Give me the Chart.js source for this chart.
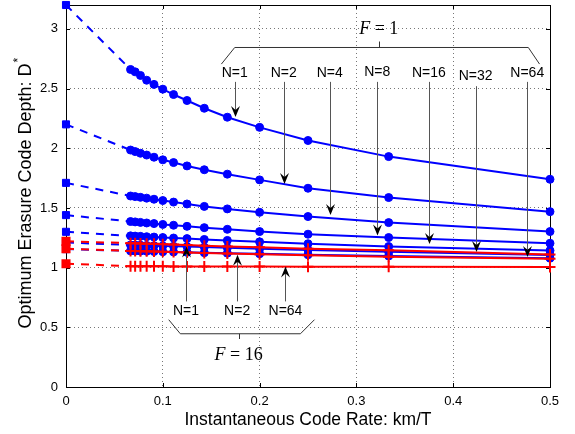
<!DOCTYPE html>
<html>
<head>
<meta charset="utf-8">
<script src="https://cdn.jsdelivr.net/npm/chart.js@4.4.1/dist/chart.umd.min.js"></script>
<style>
  html, body { margin: 0; padding: 0; background: #fff; }
  #wrap { width: 575px; height: 434px; }
</style>
</head>
<body>
<div id="wrap"><canvas id="depth-chart" width="575" height="434"></canvas></div>
<script>
// code rates k/T (first point is the asymptote at 0)
const rates = [0, 1/15, 1/14, 1/13, 1/12, 1/11, 1/10, 1/9, 1/8, 1/7, 1/6, 1/5, 1/4, 1/3, 1/2];
const xTicks = [0, 0.1, 0.2, 0.3, 0.4, 0.5];
const yTicks = [0, 0.5, 1, 1.5, 2, 2.5, 3];

// F = 1 (blue)
const depthF1N1  = [3.20, 2.66, 2.64, 2.61, 2.57, 2.535, 2.495, 2.45, 2.40, 2.335, 2.26, 2.175, 2.065, 1.93, 1.74];
const depthF1N2  = [2.20, 1.985, 1.972, 1.958, 1.943, 1.925, 1.903, 1.88, 1.852, 1.82, 1.783, 1.735, 1.665, 1.587, 1.469];
const depthF1N4  = [1.71, 1.60, 1.595, 1.589, 1.582, 1.573, 1.562, 1.549, 1.533, 1.513, 1.492, 1.463, 1.428, 1.377, 1.302];
const depthF1N8  = [1.44, 1.386, 1.383, 1.379, 1.374, 1.369, 1.362, 1.355, 1.346, 1.335, 1.321, 1.302, 1.28, 1.252, 1.204];
const depthF1N16 = [1.30, 1.266, 1.264, 1.262, 1.259, 1.256, 1.252, 1.248, 1.243, 1.236, 1.228, 1.216, 1.20, 1.177, 1.143];
const depthF1N32 = [1.21, 1.19, 1.189, 1.188, 1.186, 1.184, 1.182, 1.179, 1.176, 1.172, 1.166, 1.158, 1.148, 1.132, 1.106];
const depthF1N64 = [1.155, 1.14, 1.139, 1.138, 1.137, 1.135, 1.133, 1.131, 1.128, 1.125, 1.121, 1.116, 1.108, 1.097, 1.079];

// F = 16 (red)
const depthF16N1  = [1.22, 1.205, 1.204, 1.203, 1.201, 1.199, 1.196, 1.193, 1.189, 1.184, 1.178, 1.17, 1.158, 1.145, 1.11];
const depthF16N2  = [1.158, 1.14, 1.139, 1.138, 1.137, 1.135, 1.133, 1.13, 1.127, 1.123, 1.119, 1.113, 1.104, 1.092, 1.075];
const depthF16N64 = [1.033, 1.012, 1.012, 1.012, 1.011, 1.011, 1.011, 1.01, 1.01, 1.01, 1.009, 1.009, 1.008, 1.007, 1.005];

const labelsF1 = ["N=1", "N=2", "N=4", "N=8", "N=16", "N=32", "N=64"];
const labelsF16 = ["N=1", "N=2", "N=64"];

const BLUE = "#0000ff";
const RED = "#ff0000";
const SANS = "'Liberation Sans', Arial, Helvetica, sans-serif";
const SERIF = "'Liberation Serif', 'DejaVu Serif', serif";

// annotation placement, in data units
const arrowsF1 = [
  { x: 0.1743, labelY: 2.628, fromY: 2.556, tipY: 2.262 },
  { x: 0.2249, labelY: 2.628, fromY: 2.556, tipY: 1.70 },
  { x: 0.2725, labelY: 2.628, fromY: 2.556, tipY: 1.44 },
  { x: 0.3215, labelY: 2.641, fromY: 2.556, tipY: 1.27 },
  { x: 0.3748, labelY: 2.628, fromY: 2.556, tipY: 1.198 },
  { x: 0.4231, labelY: 2.607, fromY: 2.52, tipY: 1.131 },
  { x: 0.4765, labelY: 2.628, fromY: 2.556, tipY: 1.089 },
];
const arrowsF16 = [
  { x: 0.124, labelY: 0.633, fromY: 0.717, tipY: 1.178 },
  { x: 0.1768, labelY: 0.633, fromY: 0.717, tipY: 1.108 },
  { x: 0.2267, labelY: 0.633, fromY: 0.717, tipY: 1.01 },
];
const braceF1 = { x0: 0.1743, x1: 0.4776, y: 2.844, endX0: 0.1605, endX1: 0.4892, endY: 2.705, mid: 0.3231, midY: 2.894, textY: 3.0, text: "1" };
const braceF16 = { x0: 0.1181, x1: 0.2422, y: 0.446, endX0: 0.1061, endX1: 0.2567, endY: 0.564, mid: 0.1784, midY: 0.402, textY: 0.262, text: "16" };

function makeSeries(values, color, marker) {
  return {
    data: values.map((v, i) => ({ x: rates[i], y: v })),
    borderColor: color,
    backgroundColor: color,
    borderWidth: 2,
    pointStyle: (ctx) => (ctx.dataIndex === 0 ? "rect" : marker),
    pointRadius: (ctx) => (ctx.dataIndex === 0 ? 5 : marker === "cross" ? 5.5 : 4),
    pointBorderWidth: marker === "cross" ? 2 : 1,
    pointHoverRadius: 4,
    segment: {
      borderDash: (ctx) => (ctx.p0DataIndex === 0 ? [8, 7] : undefined),
    },
    tension: 0,
    clip: false,
  };
}

// red datasets first so they end up on top
const datasets = [
  makeSeries(depthF16N1, RED, "cross"),
  makeSeries(depthF16N2, RED, "cross"),
  makeSeries(depthF16N64, RED, "cross"),
  makeSeries(depthF1N1, BLUE, "circle"),
  makeSeries(depthF1N2, BLUE, "circle"),
  makeSeries(depthF1N4, BLUE, "circle"),
  makeSeries(depthF1N8, BLUE, "circle"),
  makeSeries(depthF1N16, BLUE, "circle"),
  makeSeries(depthF1N32, BLUE, "circle"),
  makeSeries(depthF1N64, BLUE, "circle"),
];

// box + inward ticks (matlab look)
const frame = {
  id: "frame",
  beforeDatasetsDraw(chart) {
    const { ctx, chartArea: a, scales } = chart;
    ctx.save();
    ctx.strokeStyle = "#000";
    ctx.lineWidth = 1;
    ctx.strokeRect(Math.round(a.left) + 0.5, Math.round(a.top) + 0.5,
      Math.round(a.right - a.left), Math.round(a.bottom - a.top));
    ctx.beginPath();
    xTicks.forEach((v) => {
      const px = Math.round(scales.x.getPixelForValue(v)) + 0.5;
      ctx.moveTo(px, a.bottom); ctx.lineTo(px, a.bottom - 4);
      ctx.moveTo(px, a.top); ctx.lineTo(px, a.top + 4);
    });
    yTicks.forEach((v) => {
      const py = Math.round(scales.y.getPixelForValue(v)) + 0.5;
      ctx.moveTo(a.left, py); ctx.lineTo(a.left + 4, py);
      ctx.moveTo(a.right, py); ctx.lineTo(a.right - 4, py);
    });
    ctx.stroke();
    ctx.restore();
  },
};

function arrowHead(ctx, x, y, dir) {
  // dir = 1 pointing down, -1 pointing up
  ctx.beginPath();
  ctx.moveTo(x, y);
  ctx.lineTo(x - 4.5, y - dir * 11);
  ctx.lineTo(x, y - dir * 7);
  ctx.lineTo(x + 4.5, y - dir * 11);
  ctx.closePath();
  ctx.fill();
}

function drawBrace(ctx, sx, sy, b) {
  ctx.strokeStyle = "#333";
  ctx.lineWidth = 1;
  ctx.beginPath();
  ctx.moveTo(sx(b.endX0), sy(b.endY));
  ctx.lineTo(sx(b.x0), sy(b.y));
  ctx.lineTo(sx(b.x1), sy(b.y));
  ctx.lineTo(sx(b.endX1), sy(b.endY));
  ctx.moveTo(Math.round(sx(b.mid)) + 0.5, sy(b.y));
  ctx.lineTo(Math.round(sx(b.mid)) + 0.5, sy(b.midY));
  ctx.stroke();

  // "F = n" in latex style
  const cx = sx(b.mid), cy = sy(b.textY);
  ctx.fillStyle = "#000";
  ctx.textBaseline = "middle";
  ctx.font = "italic 18px " + SERIF;
  const fw = ctx.measureText("F").width;
  ctx.font = "18px " + SERIF;
  const rest = " = " + b.text;
  const rw = ctx.measureText(rest).width;
  const x0 = cx - (fw + rw) / 2;
  ctx.font = "italic 18px " + SERIF;
  ctx.textAlign = "left";
  ctx.fillText("F", x0, cy);
  ctx.font = "18px " + SERIF;
  ctx.fillText(rest, x0 + fw, cy);
}

const notes = {
  id: "notes",
  afterDraw(chart) {
    const { ctx, chartArea: a, scales } = chart;
    const sx = (v) => scales.x.getPixelForValue(v);
    const sy = (v) => scales.y.getPixelForValue(v);
    ctx.save();

    ctx.font = "14px " + SANS;
    ctx.textAlign = "center";
    ctx.textBaseline = "middle";
    arrowsF1.forEach((ar, i) => {
      const px = Math.round(sx(ar.x)) + 0.5;
      ctx.fillStyle = "#000";
      ctx.fillText(labelsF1[i], sx(ar.x), sy(ar.labelY));
      ctx.strokeStyle = "#555";
      ctx.lineWidth = 1;
      ctx.beginPath();
      ctx.moveTo(px, sy(ar.fromY));
      ctx.lineTo(px, sy(ar.tipY) - 6);
      ctx.stroke();
      arrowHead(ctx, px, sy(ar.tipY), 1);
    });
    arrowsF16.forEach((ar, i) => {
      const px = Math.round(sx(ar.x)) + 0.5;
      ctx.fillStyle = "#000";
      ctx.fillText(labelsF16[i], sx(ar.x), sy(ar.labelY));
      ctx.strokeStyle = "#555";
      ctx.beginPath();
      ctx.moveTo(px, sy(ar.fromY));
      ctx.lineTo(px, sy(ar.tipY) + 6);
      ctx.stroke();
      arrowHead(ctx, px, sy(ar.tipY), -1);
    });

    drawBrace(ctx, sx, sy, braceF1);
    drawBrace(ctx, sx, sy, braceF16);

    // axis titles
    ctx.fillStyle = "#000";
    ctx.textBaseline = "alphabetic";
    ctx.textAlign = "center";
    ctx.font = "17.5px " + SANS;
    ctx.fillText("Instantaneous Code Rate: km/T", (a.left + a.right) / 2, 425);

    ctx.save();
    ctx.translate(30.5, (a.top + a.bottom) / 2);
    ctx.rotate(-Math.PI / 2);
    ctx.font = "18px " + SANS;
    const main = "Optimum Erasure Code Depth: D";
    const w = ctx.measureText(main).width;
    ctx.textAlign = "left";
    ctx.fillText(main, -w / 2, 0);
    ctx.font = "12px " + SANS;
    ctx.fillText("*", w / 2 + 1, -9);
    ctx.restore();

    ctx.restore();
  },
};

const gridStyle = {
  color: "#777",
  lineWidth: 1,
  drawTicks: false,
};

new Chart(document.getElementById("depth-chart"), {
  type: "line",
  data: { datasets },
  options: {
    responsive: false,
    animation: false,
    events: [],
    layout: { padding: { left: 0, top: 5, right: 25, bottom: 0 }, autoPadding: false },
    plugins: { legend: { display: false }, tooltip: { enabled: false } },
    scales: {
      x: {
        type: "linear",
        min: 0,
        max: 0.5,
        afterBuildTicks: (s) => { s.ticks = xTicks.map((v) => ({ value: v })); },
        afterFit: (s) => {
          s.height = 47;
          s.paddingLeft = 0;
          s.paddingRight = 0;
        },
        grid: gridStyle,
        border: { display: false, dash: [1, 3] },
        ticks: {
          padding: 7,
          color: "#000",
          font: { family: SANS, size: 13 },
          maxRotation: 0,
          callback: (v) => String(v),
        },
      },
      y: {
        type: "linear",
        min: 0,
        max: 3.2,
        afterBuildTicks: (s) => { s.ticks = yTicks.map((v) => ({ value: v })); },
        afterFit: (s) => {
          s.width = 66;
          s.paddingTop = 0;
          s.paddingBottom = 0;
        },
        grid: gridStyle,
        border: { display: false, dash: [1, 3] },
        ticks: {
          padding: 8,
          color: "#000",
          font: { family: SANS, size: 13 },
          callback: (v) => String(v),
        },
      },
    },
  },
  plugins: [frame, notes],
});
</script>
</body>
</html>
